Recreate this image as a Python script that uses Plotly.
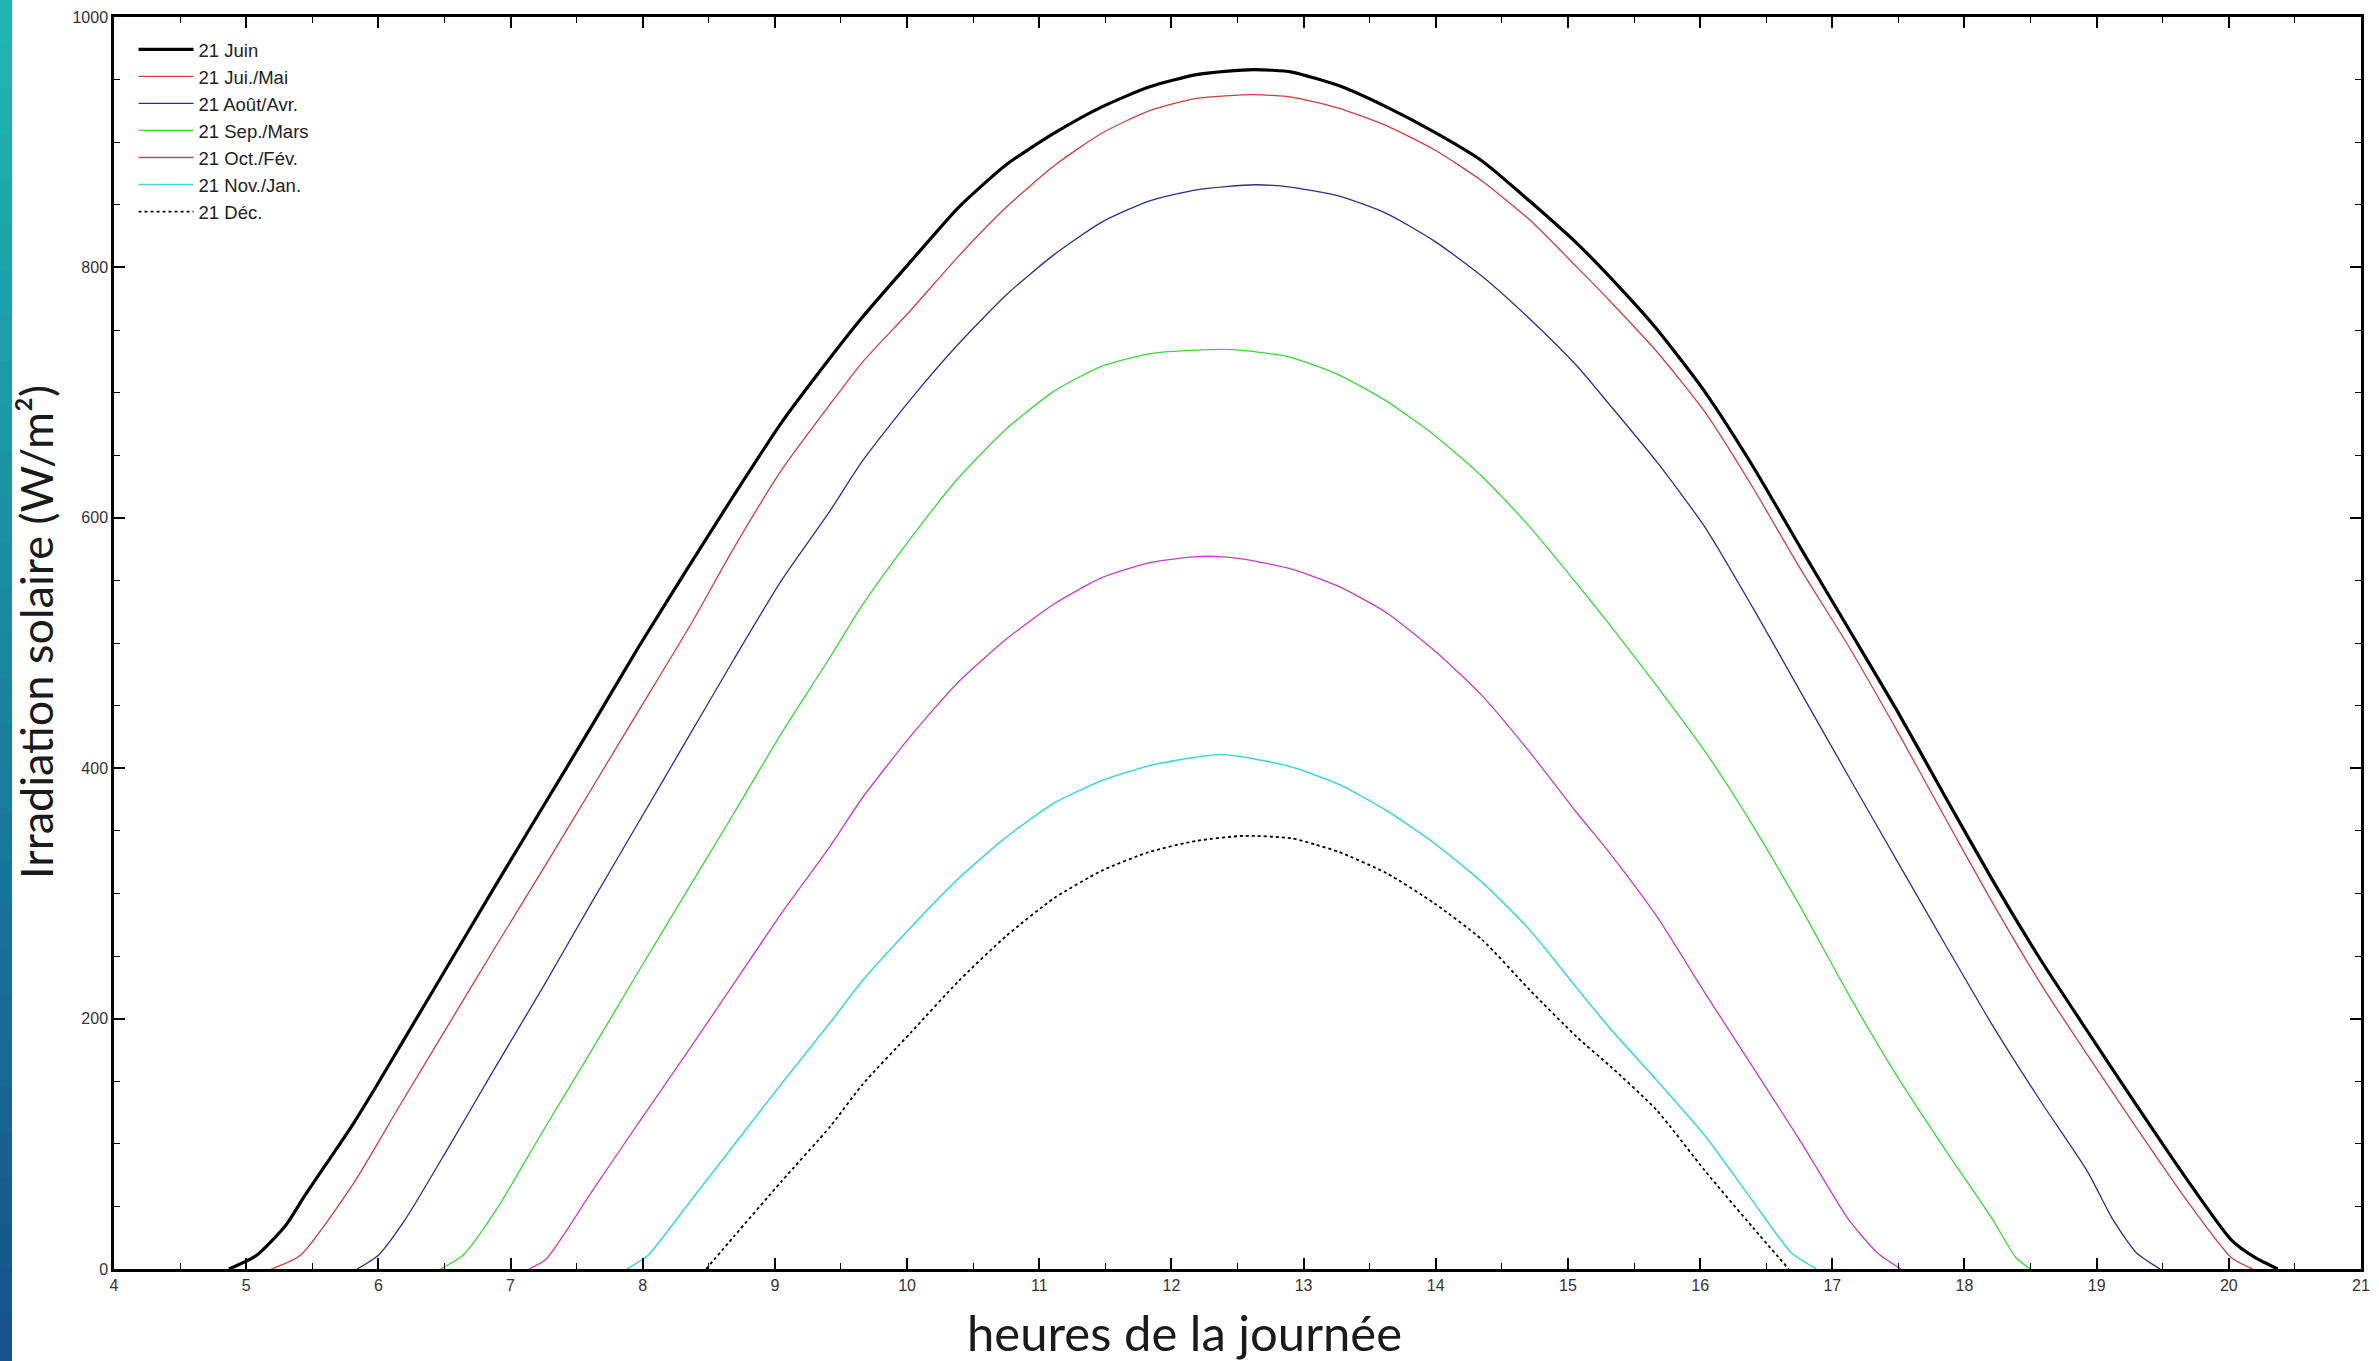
import plotly.graph_objects as go

# ---------------- data ----------------
names = ["21 Juin", "21 Jui./Mai", "21 Août/Avr.", "21 Sep./Mars",
         "21 Oct./Fév.", "21 Nov./Jan.", "21 Déc."]

h_juin = [4.87, 5.08, 5.30, 5.44, 5.81, 5.99, 6.17, 6.53, 6.89, 7.25, 7.61, 7.97, 8.33, 8.69,
          9.05, 9.42, 9.66, 10.03, 10.39, 10.75, 11.11, 11.47, 11.83, 12.19, 12.62, 12.91,
          13.27, 13.63, 13.99, 14.35, 14.71, 15.07, 15.32, 15.67, 16.04, 16.40, 16.76, 17.12,
          17.49, 17.85, 18.21, 18.57, 18.93, 19.30, 19.66, 20.02, 20.20, 20.37]
v_juin = [0, 11, 35, 58, 116, 147, 179, 243, 307, 370, 433, 497, 558, 618,
          676, 728, 760, 805, 848, 882, 907, 928, 944, 954, 958, 956,
          945, 928, 908, 885, 853, 819, 792, 751, 700, 641, 576, 512,
          446, 378, 311, 248, 190, 131, 75, 23, 9, 0]

h_mai = [5.19, 5.41, 5.81, 6.17, 6.53, 6.89, 7.25, 7.61, 7.97, 8.37, 8.69, 9.05, 9.42, 9.66,
         10.03, 10.39, 10.75, 11.11, 11.47, 11.83, 12.19, 12.62, 12.91, 13.27, 13.63, 13.99,
         14.35, 14.71, 15.07, 15.31, 15.67, 16.04, 16.40, 16.76, 17.12, 17.49, 17.85, 18.21,
         18.57, 18.93, 19.30, 19.66, 20.02, 20.18]
v_mai = [0, 11, 68, 132, 195, 258, 320, 383, 446, 516, 576, 638, 691, 724,
         766, 809, 848, 881, 907, 925, 935, 938, 936, 927, 913, 894,
         869, 838, 800, 774, 733, 684, 624, 559, 498, 430, 361, 293,
         229, 171, 113, 58, 9, 0]

h_avr = [5.84, 6.00, 6.20, 6.53, 6.89, 7.25, 7.61, 7.97, 8.33, 8.69, 9.05, 9.42, 9.66,
         10.03, 10.39, 10.75, 11.11, 11.47, 11.83, 12.19, 12.63, 12.91, 13.27, 13.63, 13.99,
         14.35, 14.71, 15.07, 15.31, 15.67, 16.04, 16.40, 16.76, 17.12, 17.49, 17.85, 18.21,
         18.57, 18.93, 19.12, 19.30, 19.48]
v_avr = [0, 11, 39, 97, 162, 226, 292, 357, 422, 487, 550, 606, 645,
         695, 739, 778, 810, 836, 853, 862, 866, 864, 857, 843, 821,
         793, 759, 721, 691, 645, 592, 528, 461, 394, 326, 260, 195,
         135, 78, 40, 13, 0]

h_mars = [6.47, 6.64, 6.89, 7.25, 7.61, 7.97, 8.33, 8.69, 9.05, 9.42, 9.66, 10.03, 10.39,
          10.75, 11.11, 11.47, 11.83, 12.19, 12.52, 12.91, 13.27, 13.63, 13.99, 14.35, 14.71,
          15.07, 15.32, 15.67, 16.04, 16.40, 16.76, 17.12, 17.49, 17.85, 18.21, 18.39, 18.50]
v_mars = [0, 11, 47, 111, 174, 238, 301, 364, 428, 489, 530, 584, 632,
          671, 701, 721, 731, 734, 734, 728, 714, 693, 666, 633, 593,
          547, 514, 466, 413, 354, 289, 220, 154, 96, 40, 9, 0]

h_fev = [7.14, 7.27, 7.61, 7.97, 8.33, 8.69, 9.05, 9.42, 9.66, 10.03, 10.39, 10.75, 11.11,
         11.47, 11.83, 12.19, 12.37, 12.55, 12.91, 13.27, 13.63, 13.99, 14.35, 14.71, 15.07,
         15.31, 15.67, 16.04, 16.40, 16.76, 17.12, 17.34, 17.52]
v_fev = [0, 8, 61, 117, 172, 228, 284, 338, 376, 426, 469, 503, 531,
         552, 564, 569, 569, 567, 559, 545, 524, 494, 458, 413, 364,
         333, 282, 220, 161, 102, 40, 13, 0]

h_jan = [7.88, 8.04, 8.33, 8.69, 9.05, 9.42, 9.66, 10.03, 10.39, 10.75, 11.11, 11.47, 11.83,
         12.19, 12.37, 12.55, 12.91, 13.27, 13.63, 13.99, 14.35, 14.71, 15.07, 15.32, 15.67,
         16.04, 16.40, 16.69, 16.88]
v_jan = [0, 11, 50, 99, 148, 197, 230, 273, 312, 345, 372, 390, 402,
         409, 411, 409, 401, 387, 366, 340, 309, 271, 224, 192, 151,
         106, 54, 13, 0]

h_dec = [8.48, 8.69, 9.05, 9.42, 9.66, 10.03, 10.39, 10.75, 11.11, 11.47, 11.83, 12.19, 12.55,
         12.91, 13.09, 13.27, 13.63, 13.99, 14.35, 14.71, 15.07, 15.32, 15.67, 16.04, 16.40, 16.67]
v_dec = [0, 26, 70, 114, 147, 189, 230, 266, 296, 318, 333, 342, 346,
         344, 339, 333, 316, 292, 263, 223, 185, 162, 127, 78, 33, 0]

x_ticks = list(range(4, 22))
y_ticks = [0, 200, 400, 600, 800, 1000]

hours = [h_juin, h_mai, h_avr, h_mars, h_fev, h_jan, h_dec]
values = [v_juin, v_mai, v_avr, v_mars, v_fev, v_jan, v_dec]

# ---------------- styles ----------------
colors = ["#000000", "#cf3e3e", "#2e2e8a", "#38d838", "#c43cc4", "#40d8d8", "#000000"]
widths = [3.2, 1.3, 1.3, 1.3, 1.3, 1.6, 1.8]
dashes = ["solid", "solid", "solid", "solid", "solid", "solid", "dot"]

W, H = 2379, 1361
ML, MR, MT, MB = 114, 18, 17, 92
PW, PH = W - ML - MR, H - MT - MB

fig = go.Figure()
for i, name in enumerate(names):
    fig.add_trace(go.Scatter(
        x=hours[i], y=values[i], mode="lines", name=name,
        legendgroup=f"g{i}",
        line=dict(color=colors[i], width=widths[i], dash=dashes[i],
                  shape="spline", smoothing=0.6),
    ))

# left decorative gradient strip
def lerp(c1, c2, t):
    return "#%02x%02x%02x" % tuple(int(round(a + (b - a) * t)) for a, b in zip(c1, c2))

top_c, bot_c = (31, 182, 178), (22, 82, 140)
nstrip = 30
shapes = []
for k in range(nstrip):
    y_top = k * H / nstrip - 2
    y_bot = (k + 1) * H / nstrip + 2
    shapes.append(dict(
        type="rect", xref="paper", yref="paper", layer="above",
        x0=(-20 - ML) / PW, x1=(12 - ML) / PW,
        y0=(H - MB - y_bot) / PH, y1=(H - MB - y_top) / PH,
        line=dict(width=0), fillcolor=lerp(top_c, bot_c, k / (nstrip - 1)),
    ))

axis_common = dict(
    showline=True, linecolor="black", linewidth=2.5, mirror="allticks",
    ticks="inside", ticklen=11, tickwidth=1.6, tickcolor="black",
    showgrid=False, zeroline=False, automargin=False,
    tickfont=dict(family="Liberation Sans, Arial", size=16, color="#333333"),
)

fig.update_layout(
    width=W, height=H,
    margin=dict(l=ML, r=MR, t=MT, b=MB, autoexpand=False),
    paper_bgcolor="white", plot_bgcolor="white",
    showlegend=True,
    legend=dict(
        x=0.0087, y=0.989, xanchor="left", yanchor="top",
        bgcolor="rgba(0,0,0,0)", borderwidth=0,
        font=dict(family="Liberation Sans, Arial", size=18.5, color="#222222"),
        traceorder="grouped", tracegroupgap=0, itemwidth=55,
    ),
    xaxis=dict(
        range=[4, 21], tickmode="array", tickvals=x_ticks,
        ticktext=[str(t) for t in x_ticks],
        minor=dict(dtick=0.5, ticks="inside", ticklen=6, tickwidth=1.3, tickcolor="black"),
        **axis_common,
    ),
    yaxis=dict(
        range=[0, 1000], tickmode="array", tickvals=y_ticks,
        ticktext=[str(t) for t in y_ticks],
        minor=dict(dtick=50, ticks="inside", ticklen=6, tickwidth=1.3, tickcolor="black"),
        **axis_common,
    ),
    shapes=shapes,
    annotations=[
        dict(text="heures de la journée", xref="paper", yref="paper",
             x=(1184 - ML) / PW, y=(H - MB - 1332) / PH, xanchor="center", yanchor="middle",
             showarrow=False, font=dict(family="Lato", size=49, color="#1a1a1a")),
        dict(text="Irradiation solaire (W/m²)", xref="paper", yref="paper",
             x=(36 - ML) / PW, y=(H - MB - 632) / PH, xanchor="center", yanchor="middle",
             textangle=-90, showarrow=False,
             font=dict(family="Lato", size=45, color="#1a1a1a")),
    ],
)

fig.write_html("out.html",
               config={"displayModeBar": False},
               post_script="document.body.style.margin='0px';document.body.style.overflow='hidden';")
